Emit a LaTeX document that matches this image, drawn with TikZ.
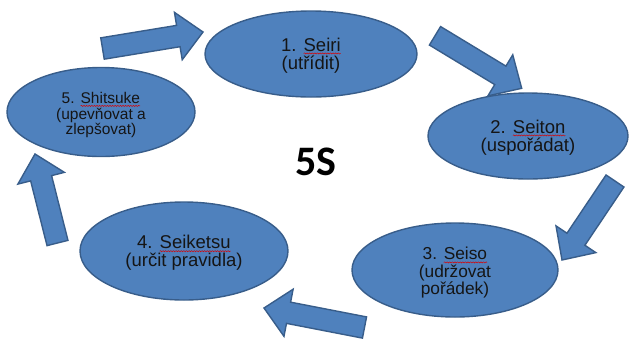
\documentclass[tikz,border=0pt]{standalone}
\usepackage{fontspec}
\setmainfont{Liberation Sans}
\newfontfamily\headfont{Carlito}
\usetikzlibrary{calc,shapes.geometric,decorations.pathmorphing}

\definecolor{ovalfill}{HTML}{4F81BD}
\definecolor{ovalline}{HTML}{385D8A}
\definecolor{ovaltext}{HTML}{151515}

% word with a red wavy spell-check underline
\newcommand\spellmark[1]{\tikz[baseline=(sq.base),x=1pt,y=1pt]{%
  \node[shape=rectangle,draw=none,fill=none,inner sep=0pt,outer sep=0pt,
        minimum width=0pt,minimum height=0pt] (sq) {#1};
  \draw[draw=red!85!black,line width=0.5pt,fill=none,
        decorate,decoration={snake,amplitude=0.55pt,segment length=2.6pt}]
    ([yshift=-2.4pt]sq.base west) -- ([yshift=-2.4pt]sq.base east);}}

% block arrow from #1 (tail centre) to #2 (tip)
\newcommand\shaftw{10.8pt}
\newcommand\headw{24pt}
\newcommand\headlen{25pt}
\newcommand\blockarrow[2]{%
  \coordinate (hb) at ($(#2)!\headlen!(#1)$);
  \filldraw[blockarrow]
    ($(#1)!\shaftw!90:(#2)$) -- ($(hb)!\shaftw!90:(#2)$) --
    ($(hb)!\headw!90:(#2)$) -- (#2) -- ($(hb)!\headw!-90:(#2)$) --
    ($(hb)!\shaftw!-90:(#2)$) -- ($(#1)!\shaftw!-90:(#2)$) -- cycle;}

\tikzset{
  oval/.style={ellipse,draw=ovalline,fill=ovalfill,line width=1.4pt,inner sep=0pt},
  steptext/.style={inner sep=0pt,text=ovaltext,align=center},
  blockarrow/.style={draw=ovalline,fill=ovalfill,line width=1.4pt,line join=miter},
}

\begin{document}
\begin{tikzpicture}[x=1pt,y=-1pt]
\useasboundingbox (0,0) rectangle (629,338);

% the five steps
\node[oval,minimum width=212pt,minimum height=86pt] (s1) at (311,54) {};
\node[oval,minimum width=200pt,minimum height=86pt] (s2) at (528,136) {};
\node[oval,minimum width=206pt,minimum height=94pt] (s3) at (455,270) {};
\node[oval,minimum width=208pt,minimum height=98pt] (s4) at (184,251) {};
\node[oval,minimum width=188pt,minimum height=89pt] (s5) at (101,112) {};

\node[steptext,font=\fontsize{18.5}{18.5}\selectfont] (l1) at ([yshift=-1.5pt]s1.center)
  {1. \spellmark{Seiri}\\(utřídit)};
\node[steptext,font=\fontsize{18.5}{18.5}\selectfont] (l2) at ([yshift=-1.5pt]s2.center)
  {2. \spellmark{Seiton}\\(uspořádat)};
\node[steptext,font=\fontsize{17.3}{17.5}\selectfont] (l3) at ([yshift=-3pt]s3.center)
  {3. \spellmark{Seiso}\\(udržovat\\pořádek)};
\node[steptext,font=\fontsize{18.5}{18}\selectfont] (l4) at ([yshift=-2pt]s4.center)
  {4. \spellmark{Seiketsu}\\(určit pravidla)};
\node[steptext,font=\fontsize{15.5}{15.5}\selectfont] (l5) at ([yshift=-3pt]s5.center)
  {5. \spellmark{Shitsuke}\\(upevňovat a\\zlepšovat)};

% title
\node[font=\headfont\bfseries\fontsize{42}{42}\selectfont] (title) at (316,162) {5S};

% arrows between the steps
\coordinate (t51) at (102.5,48.5); \coordinate (h51) at (203,32);
\coordinate (t12) at (435,35.8);  \coordinate (h12) at (521.7,88.3);
\coordinate (t23) at (615,181);   \coordinate (h23) at (562,260);
\coordinate (t34) at (364.5,327.5); \coordinate (h34) at (264,308);
\coordinate (t45) at (57.5,243);  \coordinate (h45) at (35,154);
\blockarrow{t51}{h51}
\blockarrow{t12}{h12}
\blockarrow{t23}{h23}
\blockarrow{t34}{h34}
\blockarrow{t45}{h45}
\end{tikzpicture}
\end{document}
